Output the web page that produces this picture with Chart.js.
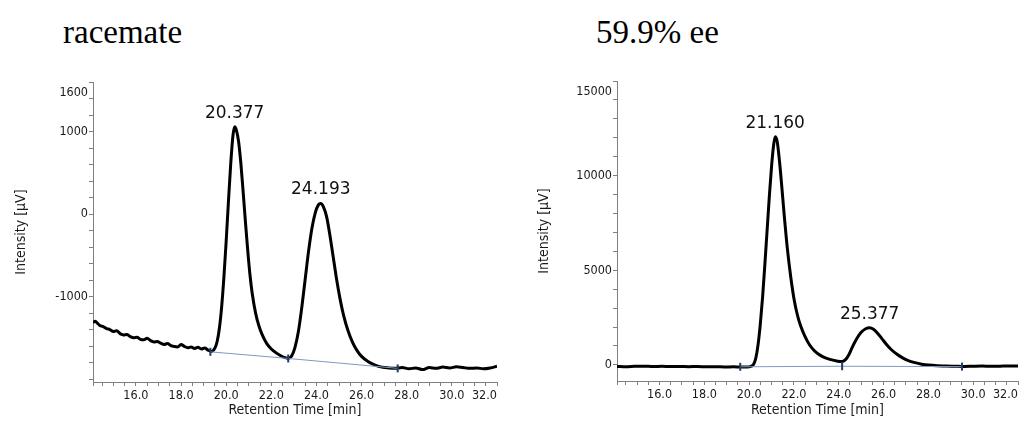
<!DOCTYPE html>
<html>
<head>
<meta charset="utf-8">
<script src="https://cdn.jsdelivr.net/npm/chart.js@4.4.1/dist/chart.umd.min.js"></script>
<style>
  body { margin: 0; background: #fff; }
  #page { position: relative; width: 1024px; height: 421px; overflow: hidden; }
  .caption { position: absolute; top: 16px; font: 33px/33px "Liberation Serif", "Times New Roman", serif; color: #000; white-space: nowrap; }
  .panel { position: absolute; top: 0; }
</style>
</head>
<body>
<div id="page">
  <div class="caption" style="left:63px">racemate</div>
  <div class="caption" style="left:596px">59.9% ee</div>
  <div class="panel" style="left:0"><canvas id="racemate" width="512" height="421"></canvas></div>
  <div class="panel" style="left:512px"><canvas id="enriched" width="512" height="421"></canvas></div>
</div>
<script>
// racemate trace: retention time [min] / intensity [µV]
const racemateTime = [
  14.1, 14.2, 14.3, 14.4, 14.55, 14.7, 14.85, 15.0, 15.15, 15.3,
  15.45, 15.6, 15.75, 15.9, 16.05, 16.2, 16.35, 16.5, 16.65, 16.8,
  16.95, 17.1, 17.25, 17.4, 17.55, 17.7, 17.85, 18.0, 18.15, 18.3,
  18.45, 18.6, 18.75, 18.9, 19.05, 19.2, 19.35, 19.5, 19.6, 19.7,
  19.8, 19.9, 20.0, 20.1, 20.2, 20.3, 20.377, 20.45, 20.55, 20.65,
  20.75, 20.85, 20.95, 21.05, 21.15, 21.3, 21.45, 21.6, 21.8, 22.0,
  22.2, 22.4, 22.6, 22.75, 22.9, 23.05, 23.2, 23.35, 23.5, 23.65,
  23.8, 23.95, 24.08, 24.193, 24.3, 24.45, 24.6, 24.75, 24.9, 25.05,
  25.2, 25.4, 25.6, 25.8, 26.0, 26.3, 26.6, 26.9, 27.2, 27.5,
  27.8, 28.1, 28.4, 28.7, 29.0, 29.3, 29.6, 29.9, 30.2, 30.5,
  30.8, 31.1, 31.4, 31.7, 32.0
];
const racemateSignal = [
  -1310, -1295, -1320, -1345, -1360, -1385, -1395, -1420, -1410, -1445,
  -1460, -1455, -1480, -1495, -1490, -1515, -1520, -1500, -1530, -1545,
  -1540, -1560, -1575, -1565, -1590, -1600, -1605, -1575, -1600, -1615,
  -1605, -1625, -1610, -1630, -1620, -1645, -1660, -1620, -1540, -1380,
  -1120, -760, -330, 150, 600, 950, 1060, 1020, 880, 620,
  280, -80, -420, -720, -950, -1190, -1350, -1460, -1565, -1630,
  -1675, -1710, -1735, -1745, -1715, -1610, -1420, -1130, -790, -450,
  -170, 20, 110, 130, 95, -30, -260, -530, -800, -1030,
  -1220, -1410, -1550, -1650, -1720, -1785, -1825, -1850, -1860, -1865,
  -1855, -1870, -1860, -1880, -1855, -1865, -1850, -1860, -1845, -1855,
  -1865, -1860, -1870, -1860, -1840
];
const racematePeakTimes = [20.377, 24.193];
const racematePeakHeights = [1060, 130];
const racemateBaseTime = [19.3, 22.75, 27.6];
const racemateBaseSignal = [-1665, -1745, -1865];
const racemateYLabels = [1600, 1000, 0, -1000];

// enriched sample trace
const enrichedTime = [
  14.1, 14.5, 14.9, 15.3, 15.7, 16.1, 16.5, 16.9, 17.3, 17.7,
  18.1, 18.5, 18.9, 19.3, 19.6, 19.9, 20.05, 20.2, 20.3, 20.4,
  20.5, 20.6, 20.7, 20.8, 20.9, 21.0, 21.08, 21.16, 21.25, 21.35,
  21.45, 21.55, 21.7, 21.85, 22.0, 22.15, 22.3, 22.5, 22.7, 22.9,
  23.1, 23.3, 23.6, 23.9, 24.15, 24.3, 24.45, 24.6, 24.8, 25.0,
  25.2, 25.377, 25.55, 25.75, 25.95, 26.15, 26.35, 26.6, 26.85, 27.1,
  27.4, 27.7, 28.0, 28.4, 28.8, 29.2, 29.6, 30.0, 30.4, 30.8,
  31.2, 31.6, 32.0
];
const enrichedSignal = [
  -80, -95, -70, -65, -85, -75, -90, -80, -95, -85,
  -100, -95, -110, -100, -110, -105, -90, 40, 380, 1100,
  2200, 3600, 5300, 7100, 8900, 10500, 11500, 12050, 11800, 10800,
  9500, 8100, 6200, 4700, 3500, 2650, 2050, 1480, 1050, 760,
  560, 420, 290, 210, 180, 280, 540, 930, 1380, 1720,
  1910, 1960, 1880, 1650, 1350, 1050, 800, 560, 370, 230,
  120, 40, -10, -45, -55, -70, -85, -70, -60, -75,
  -65, -55, -60
];
const enrichedPeakTimes = [21.16, 25.377];
const enrichedPeakHeights = [12050, 1960];
const enrichedBaseTime = [19.6, 24.15, 29.5];
const enrichedBaseSignal = [-100, -70, -90];
const enrichedYLabels = [15000, 10000, 5000, 0];

const xLabels = [16, 18, 20, 22, 24, 26, 28, 30, 32];

const FONT = '"DejaVu Sans Condensed", "DejaVu Sans", sans-serif';
const INK = '#1a1a1a';
const AXIS = '#808080';

// writes the retention time above each apex
const peakLabelPlugin = {
  id: 'peakLabels',
  afterDatasetsDraw(chart, args, opts) {
    const { ctx, scales: { x, y } } = chart;
    ctx.save();
    ctx.font = '17px "DejaVu Sans", sans-serif';
    ctx.fillStyle = '#111';
    ctx.textAlign = 'center';
    ctx.textBaseline = 'bottom';
    opts.times.forEach((t, i) => {
      ctx.fillText(t.toFixed(3), x.getPixelForValue(t), y.getPixelForValue(opts.heights[i]) - 5);
    });
    ctx.restore();
  }
};

function drawChromatogram(id, s) {
  const trace = s.time.map((t, i) => ({ x: t, y: s.signal[i] }));
  const baseline = s.baseTime.map((t, i) => ({ x: t, y: s.baseSignal[i] }));

  return new Chart(document.getElementById(id), {
    type: 'line',
    data: {
      datasets: [
        {
          data: baseline,
          borderColor: '#7f99c0',
          borderWidth: 1,
          pointStyle: 'line',
          pointRotation: 90,
          pointRadius: 4,
          pointBorderColor: '#1f3d6d',
          pointBorderWidth: 2,
          order: 0
        },
        {
          data: trace,
          borderColor: '#000',
          borderWidth: 3,
          borderJoinStyle: 'round',
          pointRadius: 0,
          cubicInterpolationMode: 'monotone',
          order: 1
        }
      ]
    },
    options: {
      responsive: false,
      animation: false,
      events: [],
      layout: { padding: s.padding },
      plugins: {
        legend: { display: false },
        tooltip: { enabled: false },
        peakLabels: { times: s.peakTimes, heights: s.peakHeights }
      },
      scales: {
        x: {
          type: 'linear',
          min: s.xMin,
          max: 32,
          afterFit: sc => { sc.height = s.xAxisHeight; },
          afterBuildTicks: sc => {
            // first tick sits on the axis corner so the last label can hug the right end
            const ticks = [{ value: s.xMin }];
            for (let k = 29; k <= 64; k++) ticks.push({ value: k / 2 });
            sc.ticks = ticks;
          },
          border: { color: AXIS, width: 1 },
          grid: { drawOnChartArea: false, tickLength: 4, color: AXIS },
          ticks: {
            autoSkip: false,
            maxRotation: 0,
            align: 'inner',
            padding: 2,
            color: INK,
            font: { family: FONT, size: 12.5 },
            callback: v => xLabels.includes(v) ? v.toFixed(1) : ''
          },
          title: {
            display: true,
            text: 'Retention Time [min]',
            color: INK,
            font: { family: FONT, size: 14 },
            padding: { top: 0, bottom: 2 }
          }
        },
        y: {
          min: s.yMin,
          max: s.yMax,
          afterFit: sc => { sc.width = s.yAxisWidth; },
          afterBuildTicks: sc => {
            const ticks = [];
            for (let v = s.yFirstTick; v <= s.yMax; v += s.yStep) ticks.push({ value: v });
            sc.ticks = ticks;
          },
          border: { color: AXIS, width: 1 },
          grid: { drawOnChartArea: false, tickLength: 4, color: AXIS },
          ticks: {
            autoSkip: false,
            padding: 1,
            color: INK,
            // the top label is pushed down under the axis end
            font: ctx => ({ family: FONT, size: 12.5, lineHeight: ctx.tick && ctx.tick.value === s.yMax ? 1.7 : 1.2 }),
            callback: v => {
              if (!s.yLabels.includes(v)) return '';
              return v === s.yMax ? ['', String(v)] : String(v);
            }
          },
          title: {
            display: true,
            text: 'Intensity [µV]',
            color: INK,
            font: { family: FONT, size: 14 },
            padding: { top: s.yTitleGap, bottom: 0 }
          }
        }
      }
    },
    plugins: [peakLabelPlugin]
  });
}

drawChromatogram('racemate', {
  time: racemateTime,
  signal: racemateSignal,
  peakTimes: racematePeakTimes,
  peakHeights: racematePeakHeights,
  baseTime: racemateBaseTime,
  baseSignal: racemateBaseSignal,
  yLabels: racemateYLabels,
  xMin: 14.1,
  yMin: -2030,
  yMax: 1600,
  yFirstTick: -2000,
  yStep: 200,
  padding: { top: 82, right: 15, bottom: 0, left: 0 },
  yAxisWidth: 93,
  xAxisHeight: 39,
  yTitleGap: 13
});

drawChromatogram('enriched', {
  time: enrichedTime,
  signal: enrichedSignal,
  peakTimes: enrichedPeakTimes,
  peakHeights: enrichedPeakHeights,
  baseTime: enrichedBaseTime,
  baseSignal: enrichedBaseSignal,
  yLabels: enrichedYLabels,
  xMin: 14.1,
  yMin: -850,
  yMax: 15000,
  yFirstTick: 0,
  yStep: 1000,
  padding: { top: 81, right: 4, bottom: 0, left: 0 },
  yAxisWidth: 105,
  xAxisHeight: 40,
  yTitleGap: 24
});
</script>
</body>
</html>
